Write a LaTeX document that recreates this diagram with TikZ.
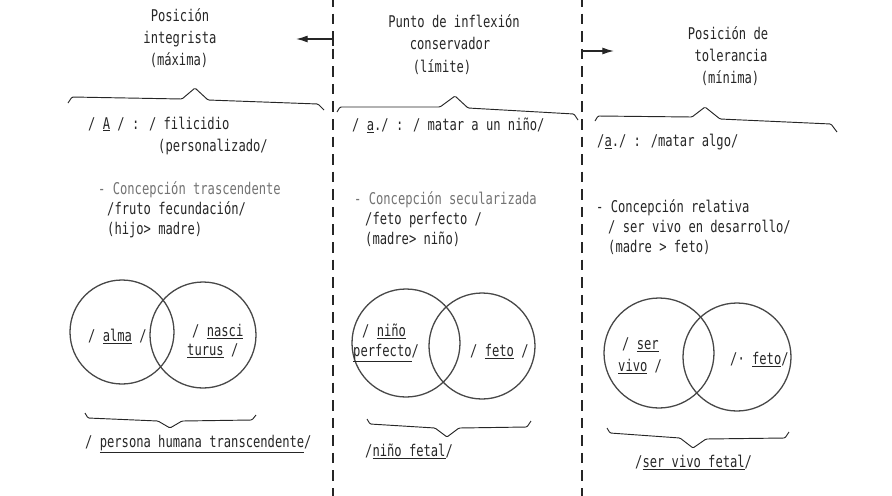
\documentclass[tikz,border=0pt]{standalone}
\usepackage{fontspec}
\setmainfont[FakeStretch=0.75]{DejaVu Sans Mono}
\usetikzlibrary{arrows.meta}
\colorlet{ink}{black!85}
\begin{document}
\begin{tikzpicture}[x=.03cm, y=-.03cm, >={Latex[length=10pt,width=6pt]},
  typed/.style={anchor=base west, inner sep=0pt, text=ink, font=\fontsize{13.8}{15}\selectfont},
  title/.style={typed, anchor=base},
  faint/.style={typed, text=black!55},
  brace/.style={ink, line width=.8pt, rounded corners=1pt},
  venn/.style={black!72, line width=1.1pt},
  divider/.style={ink, line width=1.3pt, dash pattern=on 9pt off 6pt}]
\useasboundingbox (0,0) rectangle (892,495);
% dividers and arrows
\coordinate (divLtop) at (333,-4); \coordinate (divLbot) at (333,499);
\coordinate (divRtop) at (582,-4); \coordinate (divRbot) at (582,499);
\draw[divider] (divLtop)--(divLbot);
\draw[divider] (divRtop)--(divRbot);
\coordinate (arrLfrom) at (333,46); \coordinate (arrLto) at (296,39);
\coordinate (arrRfrom) at (582,56); \coordinate (arrRto) at (614,51);
\draw[->, ink, line width=1.1pt] (arrLfrom) |- (arrLto);
\draw[->, ink, line width=1.1pt] (arrRfrom) |- (arrRto);
% left column: posicion integrista
\node[title] (intA) at (180,21) {Posición};
\node[title] (intB) at (180,43) {integrista};
\node[title] (intC) at (179,65) {(máxima)};
\draw[brace] (68,103)--(72,97)--(182,99)--(195,88)--(208,100)--(318,104)--(324,110);
\node[typed] (intDef) at (88,129) {/ \underline{A} / : / filicidio};
\node[typed] (intDefB) at (158,151) {(personalizado/};
\node[faint] (intCon) at (98,194) {- Concepción trascendente};
\node[typed] (intConB) at (107,214) {/fruto fecundación/};
\node[typed] (intConC) at (107,234) {(hijo> madre)};
\draw[venn] (122,332) circle[radius=52];
\draw[venn] (203,335) circle[radius=53];
\node[typed] (alma) at (88,341) {/ \underline{alma} /};
\node[typed] (nasci) at (192,336) {/ \underline{nasci}};
\node[typed] (turus) at (187,355) {\underline{turus} /};
\draw[brace] (85,413)--(88,418)--(158,421)--(170,428)--(182,421)--(252,420)--(256,415);
\node[typed] (persona) at (85,447) {/ \underline{persona humana transcendente}/};
% middle column: punto de inflexion
\node[title] (infA) at (454,27) {Punto de inflexión};
\node[title] (infB) at (450,49) {conservador};
\node[title] (infC) at (442,72) {(límite)};
\draw[brace] (337,112)--(340,107)--(440,107)--(455,96)--(468,108)--(574,114)--(578,120);
\node[typed] (infDef) at (352,130) {/ \underline{a}./ : / matar a un niño/};
\node[faint] (infCon) at (354,204) {- Concepción secularizada};
\node[typed] (infConB) at (365,224) {/feto perfecto /};
\node[typed] (infConC) at (365,244) {(madre> niño)};
\draw[venn] (406,343) circle[radius=54];
\draw[venn] (482,346) circle[radius=53];
\node[typed] (nino) at (362,336) {/ \underline{niño}};
\node[typed] (perfecto) at (353,356) {\underline{perfecto}/};
\node[typed] (fetoM) at (470,356) {/ \underline{feto} /};
\draw[brace] (367,419)--(370,424)--(435,428)--(447,437)--(459,428)--(527,427)--(531,421);
\node[typed] (ninoFetal) at (365,456) {/\underline{niño fetal}/};
% right column: posicion de tolerancia
\node[title] (tolA) at (728,39) {Posición de};
\node[title] (tolB) at (731,61) {tolerancia};
\node[title] (tolC) at (730,83) {(mínima)};
\draw[brace] (595,121)--(598,116)--(692,117)--(705,107)--(720,119)--(831,124)--(837,132);
\node[typed] (tolDef) at (597,146) {/\underline{a}./ : /matar algo/};
\node[typed] (tolCon) at (596,212) {- Concepción relativa};
\node[typed] (tolConB) at (608,232) {/ ser vivo en desarrollo/};
\node[typed] (tolConC) at (608,252) {(madre > feto)};
\draw[venn] (659,353) circle[radius=55];
\draw[venn] (737,357) circle[radius=54];
\node[typed] (ser) at (622,349) {/ \underline{ser}};
\node[typed] (vivo) at (618,371) {\underline{vivo} /};
\node[typed] (fetoR) at (730,364) {/· \underline{feto}/};
\draw[brace] (607,428)--(610,433)--(680,438)--(693,448)--(706,439)--(785,438)--(789,432);
\node[typed] (serFetal) at (635,467) {/\underline{ser vivo fetal}/};
\end{tikzpicture}
\end{document}
